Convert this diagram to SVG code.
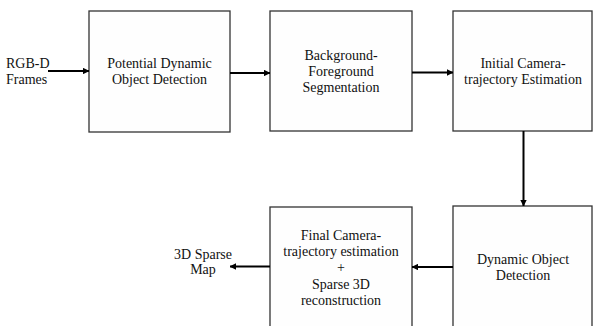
<svg xmlns="http://www.w3.org/2000/svg" width="593" height="326" viewBox="0 0 593 326">
<defs>
<style>
.box{fill:#fefefe;stroke:#333;stroke-width:1.3}
text{font-size:14px;fill:#111;text-anchor:middle}
.c{stroke:#000;stroke-width:2;fill:none}
</style>
<marker id="ah" viewBox="0 0 8 8" refX="7.5" refY="4" markerWidth="3.2" markerHeight="3.2" orient="auto" markerUnits="strokeWidth">
<path d="M0,0 L8,4 L0,8 Z" fill="#000"/>
</marker>
</defs>
<rect width="593" height="326" fill="#fff"/>
<g id="n1" font-family="Liberation Serif">
<rect class="box" x="89" y="11" width="141" height="121"/>
<text x="159.5" y="68">Potential Dynamic</text>
<text x="159.5" y="84">Object Detection</text>
</g>
<g id="n2" font-family="Liberation Serif">
<rect class="box" x="270" y="11" width="142" height="120"/>
<text x="341" y="60">Background-</text>
<text x="341" y="76">Foreground</text>
<text x="341" y="92">Segmentation</text>
</g>
<g id="n3" font-family="Liberation Serif">
<rect class="box" x="453" y="11" width="139" height="120"/>
<text x="523" y="68">Initial Camera-</text>
<text x="523" y="84">trajectory Estimation</text>
</g>
<g id="n4" font-family="Liberation Serif">
<rect class="box" x="453" y="206" width="139" height="130"/>
<text x="523" y="264">Dynamic Object</text>
<text x="523" y="280">Detection</text>
</g>
<g id="n5" font-family="Liberation Serif">
<rect class="box" x="270" y="207" width="142" height="129"/>
<text x="341" y="240">Final Camera-</text>
<text x="341" y="256">trajectory estimation</text>
<text x="341" y="272">+</text>
<text x="341" y="289">Sparse 3D</text>
<text x="341" y="305">reconstruction</text>
</g>
<g id="in" font-family="Liberation Serif">
<text x="6" y="68" style="text-anchor:start">RGB-D</text>
<text x="6" y="84" style="text-anchor:start">Frames</text>
</g>
<g id="out" font-family="Liberation Serif">
<text x="203" y="259">3D Sparse</text>
<text x="203" y="274">Map</text>
</g>
<g id="connectors">
<line class="c" x1="48" y1="71" x2="89" y2="71" marker-end="url(#ah)"/>
<line class="c" x1="230" y1="73" x2="270" y2="73" marker-end="url(#ah)"/>
<line class="c" x1="412" y1="72.5" x2="453" y2="72.5" marker-end="url(#ah)"/>
<line class="c" x1="523.5" y1="131" x2="523.5" y2="206" marker-end="url(#ah)"/>
<line class="c" x1="453" y1="267" x2="412" y2="267" marker-end="url(#ah)"/>
<line class="c" x1="270" y1="266.5" x2="230" y2="266.5" marker-end="url(#ah)"/>
</g>
</svg>
